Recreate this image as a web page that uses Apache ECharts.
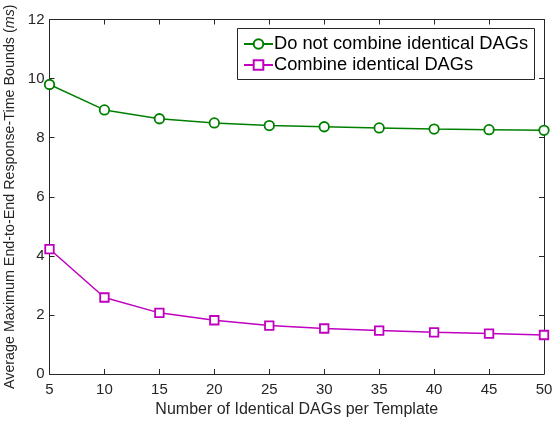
<!DOCTYPE html>
<html><head><meta charset="utf-8">
<script src="https://cdn.jsdelivr.net/npm/echarts@6/dist/echarts.min.js"></script>
<style>html,body{margin:0;padding:0;background:#fff}#c{width:559px;height:421px}</style>
</head><body><div id="c"></div>
<script>
const xValues = [5, 10, 15, 20, 25, 30, 35, 40, 45, 50];
const notCombined = [9.80, 8.94, 8.64, 8.50, 8.41, 8.37, 8.33, 8.29, 8.27, 8.25];
const combined = [4.23, 2.59, 2.07, 1.82, 1.64, 1.54, 1.47, 1.41, 1.37, 1.32];
const seriesNames = ['Do not combine identical DAGs', 'Combine identical DAGs'];
const xTitle = 'Number of Identical DAGs per Template';

const axisColor = '#262626';
const font = 'Liberation Sans, Arial, Helvetica, sans-serif';
const chart = echarts.init(document.getElementById('c'), null, {renderer: 'canvas'});
const pairs = arr => xValues.map((x, i) => [x, arr[i]]);
const baseAxis = {
  axisLine: {show: true, onZero: false, lineStyle: {color: axisColor, width: 1}},
  axisTick: {show: true, inside: true, length: 5, lineStyle: {color: axisColor}},
  splitLine: {show: false}
};
chart.setOption({
  animation: false,
  backgroundColor: '#fff',
  grid: {left: 49.5, right: 15, top: 19.5, bottom: 47, containLabel: false, outerBoundsMode: 'none'},
  legend: {
    orient: 'vertical', left: 238, top: 30,
    itemWidth: 29, itemHeight: 12, itemGap: 3,
    textStyle: {fontFamily: font, fontSize: 18.3, color: '#000', padding: [0, 0, 0, -4]},
    data: seriesNames
  },
  graphic: [{type: 'rect', shape: {x: 237.5, y: 28.5, width: 297, height: 51},
    style: {fill: 'none', stroke: axisColor, lineWidth: 1}, z: 100, silent: true}],
  xAxis: [
    Object.assign({}, baseAxis, {type: 'value', min: 5, max: 50, interval: 5,
      name: xTitle, nameLocation: 'middle', nameGap: 27,
      nameTextStyle: {fontFamily: font, fontSize: 16, color: axisColor},
      axisLabel: {fontFamily: font, fontSize: 15, color: axisColor, margin: 8}}),
    Object.assign({}, baseAxis, {type: 'value', min: 5, max: 50, interval: 5, position: 'top',
      axisLabel: {show: false}})
  ],
  yAxis: [
    Object.assign({}, baseAxis, {type: 'value', min: 0, max: 12, interval: 2,
      name: '{n|Average Maximum End-to-End Response-Time Bounds (}{i|ms}{n|)}',
      nameLocation: 'middle', nameGap: 26,
      nameTextStyle: {fontFamily: font, fontSize: 14.3, color: axisColor,
        rich: {n: {fontFamily: font, fontSize: 14.3, color: axisColor},
               i: {fontFamily: font, fontSize: 14.3, color: axisColor, fontStyle: 'italic'}}},
      axisLabel: {fontFamily: font, fontSize: 15, color: axisColor, margin: 5}}),
    Object.assign({}, baseAxis, {type: 'value', min: 0, max: 12, interval: 2, position: 'right',
      axisLabel: {show: false}})
  ],
  series: [
    {name: seriesNames[0], type: 'line', data: pairs(notCombined),
     symbol: 'circle', symbolSize: 9.5, showAllSymbol: true,
     lineStyle: {color: '#008000', width: 1.5},
     itemStyle: {color: '#fff', borderColor: '#008000', borderWidth: 1.8},
     emphasis: {disabled: true}},
    {name: seriesNames[1], type: 'line', data: pairs(combined),
     symbol: 'rect', symbolSize: 8.5,
     lineStyle: {color: '#bf00bf', width: 1.5},
     itemStyle: {color: '#fff', borderColor: '#bf00bf', borderWidth: 1.8},
     emphasis: {disabled: true}}
  ]
});
</script></body></html>
